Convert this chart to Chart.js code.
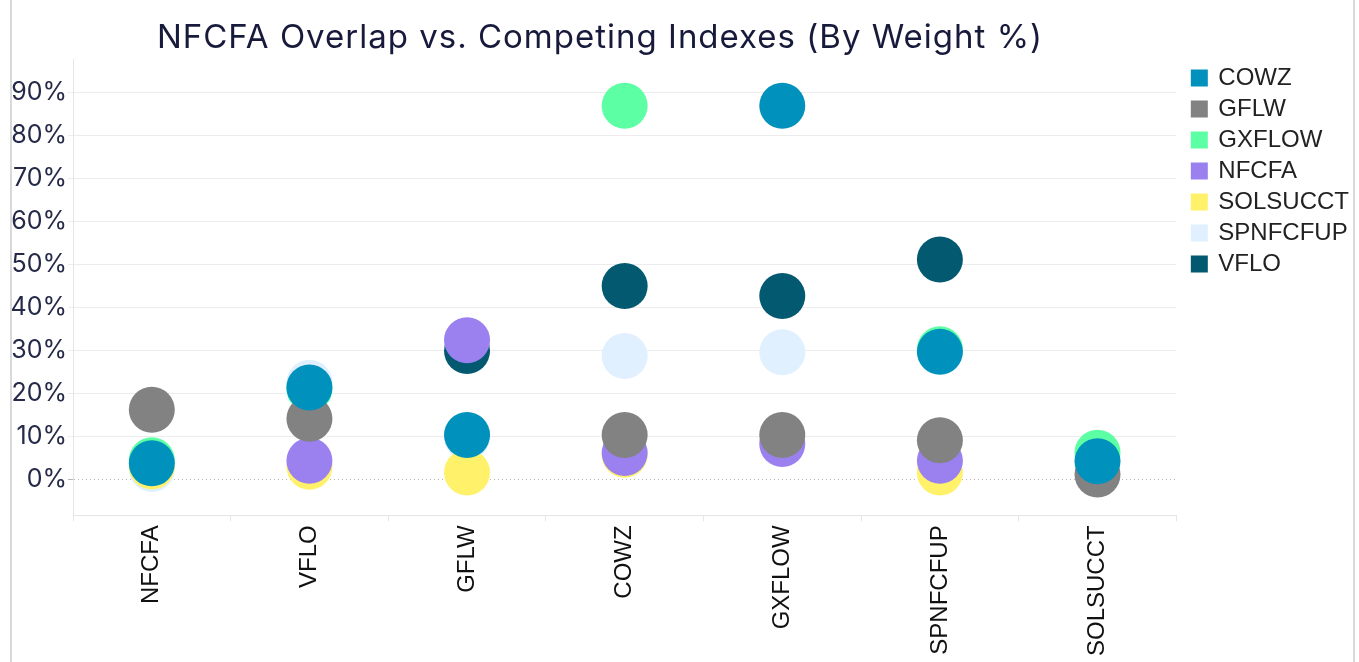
<!DOCTYPE html>
<html>
<head>
<script src="https://cdn.jsdelivr.net/npm/chart.js"></script>
<style>
  body { margin: 0; background: #fff; }
  #wrap { position: absolute; left: 12px; top: 0; width: 1347px; height: 662px; }
  #frame { position: absolute; left: 10px; top: 0; width: 1341px; height: 662px; pointer-events: none;
           border-left: 2px solid #d9d9d9; border-right: 2px solid #d9d9d9; }
  #title { position: absolute; left: 0; top: 16px; width: 1200px; text-align: center;
           font: 33px Inter, sans-serif; letter-spacing: 1px; line-height: 40px; color: #171a3b; }
</style>
</head>
<body>
<div id="wrap"><canvas id="myChart"></canvas></div>
<div id="frame"></div>
<div id="title">NFCFA Overlap vs. Competing Indexes (By Weight %)</div>
<script>
const categories = ['NFCFA', 'VFLO', 'GFLW', 'COWZ', 'GXFLOW', 'SPNFCFUP', 'SOLSUCCT'];
const yTicks = [0, 10, 20, 30, 40, 50, 60, 70, 80, 90];

// overlap by weight, percent
const cowz     = [3.7, 21.4, 10.3, null, 87.0, 29.7, 4.2];
const gflw     = [16.2, 14.1, null, 10.3, 10.3, 9.1, 1.1];
const gxflow   = [4.4, 21.0, null, 87.0, null, 30.3, 6.2];
const nfcfa    = [null, 4.3, 32.4, 6.1, 8.2, 4.3, null];
const solsucct = [3.0, 2.9, 1.6, 5.7, null, 1.6, null];
const spnfcfup = [2.4, 22.5, 9.8, 28.7, 29.6, null, null];
const vflo     = [null, null, 29.9, 45.0, 42.7, 51.2, null];

function series(label, data, color) {
  return {
    label: label,
    data: data,
    showLine: false,
    pointRadius: 23,
    pointHoverRadius: 23,
    pointBorderWidth: 0,
    backgroundColor: color,
    borderColor: color
  };
}

const ctx = document.getElementById('myChart');
new Chart(ctx, {
  type: 'line',
  data: {
    labels: categories,
    datasets: [
      series('COWZ', cowz, '#0091bc'),
      series('GFLW', gflw, '#828282'),
      series('GXFLOW', gxflow, '#5cffa3'),
      series('NFCFA', nfcfa, '#9b80f0'),
      series('SOLSUCCT', solsucct, '#fff26a'),
      series('SPNFCFUP', spnfcfup, '#e0f0ff'),
      series('VFLO', vflo, '#03596f')
    ]
  },
  options: {
    responsive: true,
    maintainAspectRatio: false,
    animation: false,
    layout: { padding: { left: 0, right: 0, top: 59, bottom: 2 } },
    plugins: {
      title: { display: false },
      legend: {
        position: 'right',
        align: 'start',
        labels: {
          boxWidth: 14,
          boxHeight: 14,
          padding: 7,
          color: '#222',
          font: { size: 24, family: 'Liberation Sans' }
        }
      },
      tooltip: { enabled: false }
    },
    scales: {
      x: {
        offset: true,
        grid: { drawOnChartArea: false, drawTicks: true, tickLength: 6, color: '#e6e6e6', offset: true },
        border: { color: '#e6e6e6' },
        ticks: {
          minRotation: 90,
          maxRotation: 90,
          color: '#111',
          padding: 4,
          font: { size: 24, family: 'Liberation Sans' }
        }
      },
      y: {
        min: -8.4,
        max: 97.9,
        afterBuildTicks: (axis) => { axis.ticks = yTicks.map(v => ({ value: v })); },
        afterFit: (s) => { s.width = 61; },
        grid: {
          color: (c) => (c.tick && c.tick.value === 0) ? '#b5b5b5' : '#ececec',
          tickLength: 5
        },
        border: {
          color: '#e6e6e6',
          dash: (c) => (c.tick && c.tick.value === 0) ? [1, 3] : []
        },
        ticks: {
          color: '#252a48',
          padding: 1,
          font: { size: 25, family: 'Inter' },
          callback: (v) => v + '%'
        }
      },
      // empty right axis, only keeps a gap before the legend
      gap: {
        position: 'right',
        grid: { display: false },
        border: { display: false },
        ticks: { display: false },
        afterFit: (s) => { s.width = 9; }
      }
    }
  }
});
</script>
</body>
</html>
